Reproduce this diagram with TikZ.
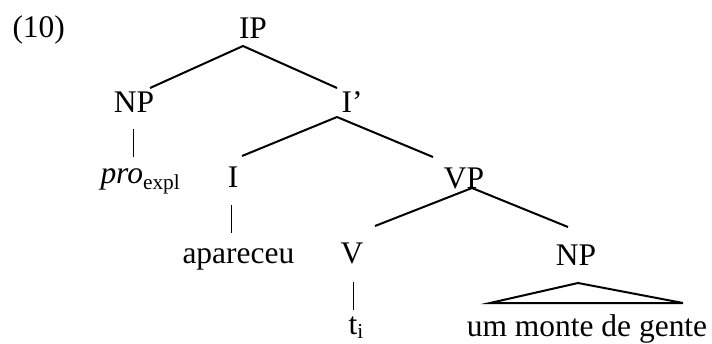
\documentclass[tikz,border=0pt]{standalone}
\usepackage{fontspec}
\setmainfont{Liberation Serif}

\tikzset{every picture/.style={line width=0.75pt}}
\tikzset{lbl/.style={anchor=base,inner sep=0pt,font=\fontsize{23.6}{28}\selectfont},
	branch/.style={line width=1.5pt},
	bar/.style={line width=0.75pt}}

\begin{document}
\begin{tikzpicture}[x=0.75pt,y=0.75pt,yscale=-1,xscale=1]
	\useasboundingbox (0,0) rectangle (712,343);

	% Text Node
	\node (ex) [lbl,anchor=base west] at (12,37) {(10)};
	% Text Node
	\node (ip) [lbl] at (253,38) {IP};
	% Text Node
	\node (np1) [lbl] at (134,112) {NP};
	% Text Node
	\node (ibar) [lbl] at (352,112) {I’};
	% Text Node
	\node (pro) [lbl,anchor=base west] at (100,183) {\itshape pro\upshape\raisebox{-5.2pt}{\fontsize{16}{16}\selectfont expl}};
	% Text Node
	\node (i) [lbl] at (233,187) {I};
	% Text Node
	\node (vp) [lbl] at (464,188) {VP};
	% Text Node
	\node (verb) [lbl,anchor=base west] at (182,263) {apareceu};
	% Text Node
	\node (v) [lbl] at (352,263) {V};
	% Text Node
	\node (np2) [lbl] at (576,265) {NP};
	% Text Node
	\node (trace) [lbl,anchor=base west] at (348,334) {t\raisebox{-3.5pt}{\fontsize{16}{16}\selectfont i}};
	% Text Node
	\node (gente) [lbl] at (587,336) {um monte de gente};

	% branch points
	\coordinate (ip-b) at (243,46);
	\coordinate (np1-t) at (150,88);
	\coordinate (ibar-t) at (337,88);
	\coordinate (ibar-b) at (337,117);
	\coordinate (i-t) at (242,156);
	\coordinate (vp-t) at (433,157);
	\coordinate (vp-b) at (472,188);
	\coordinate (v-t) at (375,226);
	\coordinate (np2-t) at (568,227);
	\coordinate (tri-a) at (578,283);
	\coordinate (tri-l) at (490,303);
	\coordinate (tri-r) at (683,303);
	\coordinate (np1-b) at (133,129);
	\coordinate (pro-t) at (133,157);
	\coordinate (i-b) at (231,205);
	\coordinate (verb-t) at (231,233);
	\coordinate (v-b) at (353,282);
	\coordinate (trace-t) at (353,310);

	%Straight Lines
	\draw [branch] (ip-b) -- (np1-t) ;
	\draw [branch] (ip-b) -- (ibar-t) ;
	\draw [branch] (ibar-b) -- (i-t) ;
	\draw [branch] (ibar-b) -- (vp-t) ;
	\draw [branch] (vp-b) -- (v-t) ;
	\draw [branch] (vp-b) -- (np2-t) ;
	%Shape: Triangle
	\draw [branch] (tri-a) -- (tri-l) -- (tri-r) -- cycle ;
	%Straight Lines
	\draw [bar] (np1-b) -- (pro-t) ;
	\draw [bar] (i-b) -- (verb-t) ;
	\draw [bar] (v-b) -- (trace-t) ;

\end{tikzpicture}
\end{document}
